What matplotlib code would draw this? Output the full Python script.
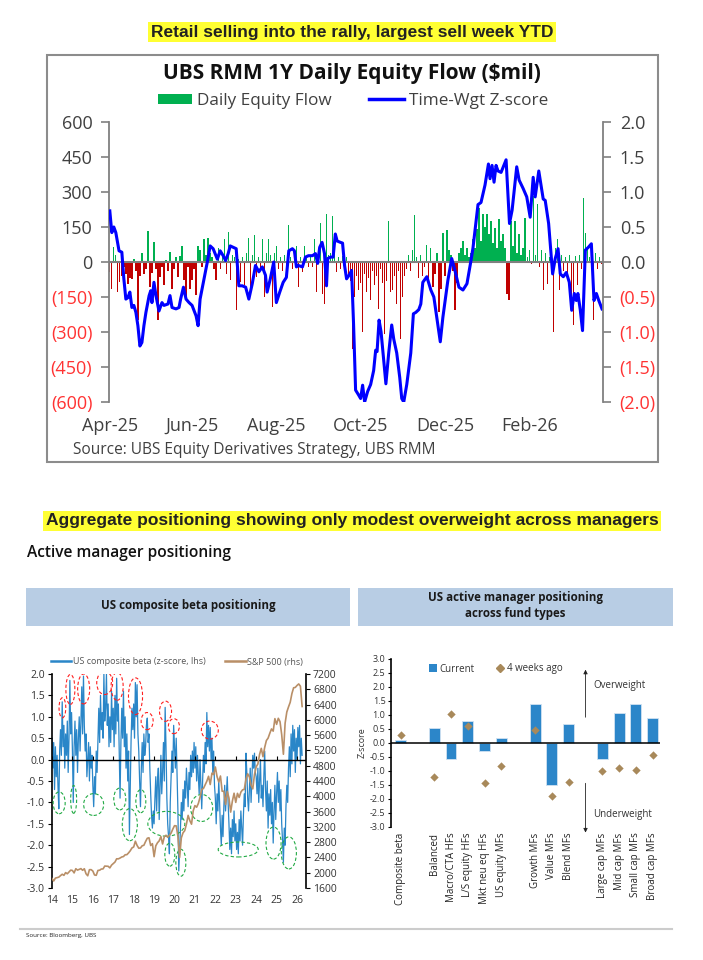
import matplotlib
matplotlib.use("Agg")
import matplotlib.pyplot as plt
from matplotlib.patches import Rectangle, Ellipse, Patch
from matplotlib.lines import Line2D

plt.rcParams["font.family"] = ["Open Sans", "DejaVu Sans"]

# ---------------- top chart: UBS RMM daily equity flow ----------------
month_tick_days = [0, 41, 83, 125, 167, 209]
month_tick_labels = ["Apr-25", "Jun-25", "Aug-25", "Oct-25", "Dec-25", "Feb-26"]

daily_flow = [
    -43, -114, 64, 29, -129, -86, -60, -20, -50, -93,
    -70, -71, 15, -40, -250, -60, 39, -50, -30, 131,
    -107, -45, 86, -30, -250, -64, -20, -100, 10, -40,
    43, -114, -30, 20, -64, 25, 70, -79, -157, -20,
    -114, -79, -30, -143, 70, 50, -20, 100, 30, 104,
    40, 20, -30, -79, 61, -29, 20, 97, -50, 127,
    -79, 30, 20, -207, 15, -86, 20, -100, 40, 104,
    -107, 30, 114, -64, 20, -40, 100, -150, 40, 100,
    30, -193, 39, 70, -29, 20, -40, 30, -43, 160,
    20, -30, 40, 67, -107, 20, -43, 67, 25, -20,
    30, -20, 100, -129, 40, 167, -136, -179, 207, 30,
    40, 197, 64, -43, 20, -30, 25, -40, 20, -60,
    -80, -371, -150, -60, -120, -90, -300, -50, -130, -70,
    -164, -40, -100, -60, -200, -30, -90, -307, -80, 176,
    -130, -120, -60, -179, -40, -329, -150, -60, -30, 30,
    -40, 50, 201, 20, -70, 30, -60, -20, 73, -100,
    60, -107, -50, 40, -214, -115, 123, -60, 137, 50,
    30, -40, -207, -90, 40, 60, 90, 30, 60, 20,
    40, 100, 60, 140, 233, 90, 204, 150, 207, 120,
    176, 80, 147, 60, 183, 90, 119, 60, -136, -164,
    176, 70, 176, 40, 119, 30, 60, 190, 20, 50,
    -10, 283, 30, 250, -20, 50, -121, 40, -93, 20,
    30, -300, 60, 97, -121, 30, -40, 20, -60, 30,
    -157, -271, 25, -100, 30, -30, 273, 126, 60, 20,
    30, -250, 40, -30, 20, -10,
]

zscore_day = [
    0, 1, 2, 3, 4.6, 6, 7, 8, 9, 10, 11, 12, 13, 14, 15, 16, 17, 18, 19.6, 20.4,
    21, 22, 23, 24.5, 26, 27, 29, 30, 31, 33, 34.5, 35.3, 36.7, 38, 39.5, 41, 43, 44, 45, 47,
    48.6, 50, 51.5, 53.6, 55, 56.5, 57.7, 59, 60, 61.5, 63, 64.3, 66, 67.7, 69.3, 71, 72.6, 74.3, 76, 77.6,
    78.4, 80, 81.7, 83, 84.7, 86.4, 88, 89.2, 91, 92, 93, 94, 96, 97.5, 99, 101, 102.5, 103.6, 104.6, 105.8,
    107, 108, 108.6, 110, 111.3, 112.4, 113.3, 115, 116, 117, 118, 119.5, 120.5, 121.5, 122.5, 124, 125, 126, 127, 128.5,
    130, 131.5, 132.5, 133.2, 134.2, 135.2, 136.5, 137.6, 139, 140.5, 141.5, 143, 144.5, 145.5, 146.5, 148, 150, 151.3, 152.5, 154,
    155, 156, 157, 158, 160, 161.5, 163, 164.7, 166, 168.5, 170.4, 172, 174, 176, 178, 180, 181, 182.6, 183.5, 185,
    187, 188.7, 189.5, 190.5, 191.5, 192.5, 193.5, 195, 197.5, 199.2, 200.5, 202.8, 204, 206, 207.8, 209.5, 211, 212, 213.8, 216,
    217, 218.7, 220.7, 222, 223.4, 224.5, 226, 227.5, 229, 230.2, 231.5, 232.5, 233.3, 234.5, 235.6, 237, 238.5, 240, 241.3, 242.5,
    243.7, 245.3,
]
zscore_val = [
    0.73, 0.42, 0.50, 0.42, 0.16, 0.14, -0.24, -0.53, -0.51, -0.43, -0.65, -0.62, -0.72, -0.91, -1.20, -1.15, -0.91, -0.72, -0.48, -0.41,
    -0.58, -0.29, -0.48, -0.70, -0.58, -0.62, -0.60, -0.48, -0.65, -0.67, -0.65, -0.53, -0.36, -0.53, -0.58, -0.62, -0.77, -0.91, -0.53, -0.24,
    0.0, 0.23, 0.19, 0.04, 0.16, 0.09, 0.02, 0.12, 0.23, 0.21, 0.19, -0.34, -0.34, -0.36, -0.53, -0.31, -0.05, -0.14, -0.07, -0.19,
    -0.43, -0.24, 0.0, -0.58, -0.43, -0.29, -0.22, 0.16, 0.19, 0.16, -0.07, -0.05, -0.07, 0.07, 0.09, 0.09, 0.12, -0.02, 0.21, 0.28,
    0.12, -0.34, 0.05, 0.07, 0.07, 0.40, 0.30, 0.28, 0.27, -0.05, -0.24, -0.18, -0.12, -0.90, -1.83, -1.90, -1.95, -1.76, -2.0, -1.85,
    -1.75, -1.55, -1.26, -1.28, -0.83, -1.0, -1.40, -1.74, -1.30, -0.90, -1.10, -1.30, -1.65, -1.95, -2.0, -1.75, -1.30, -0.74, -0.72, -0.68,
    -0.60, -0.29, -0.25, -0.21, -0.40, -0.50, -0.80, -1.14, -0.79, -0.26, 0.05, -0.12, -0.36, -0.40, -0.31, 0.02, 0.20, 0.59, 0.82, 0.85,
    1.10, 1.40, 1.19, 1.38, 1.14, 1.38, 1.30, 1.28, 1.46, 0.55, 0.74, 1.36, 1.17, 1.05, 0.93, 0.64, 1.21, 0.93, 1.30, 0.90,
    0.88, 0.55, -0.17, 0.05, 0.19, -0.17, -0.21, -0.15, -0.29, -0.69, -0.45, -0.55, -0.45, -0.69, -0.98, 0.17, 0.21, 0.26, -0.55, -0.45,
    -0.55, -0.67,
]

# ---------------- bottom left: US composite beta vs S&P 500 ----------------
beta_2014 = [0.5, -0.2, 0.4, -0.7, 0.3, -0.4, 0.1, -0.6, -1.15, 0.2, 0.7, 0.1, 1.35, 0.3, 0.8, -0.2, 0.6, 0.1, 0.9, -0.3, 0.5, 1.85, 0.6, 1.1]
beta_2015 = [0.2, -1.0, 0.3, 0.9, 0.1, 0.7, -0.3, 0.5, 1.0, 0.2, 0.9, 1.7, 0.6, 1.95, 0.8, 0.2, 0.6, -0.4, 0.0, 0.4, -0.5, 0.3, -0.2, 0.1]
beta_2016 = [-0.6, -1.1, -0.4, -0.8, 0.2, -0.3, 0.5, 1.2, 0.4, 1.5, 0.7, 1.1, 0.5, 2.0, 0.9, 1.2, 2.0, 0.8, 1.3, 0.3, 1.0, 0.4, 1.6, 0.7]
beta_2017 = [1.2, 0.3, 1.5, 0.6, 1.9, 0.9, 1.3, 0.2, -0.9, 0.4, 1.2, 0.5, 1.6, 0.3, 1.0, -0.2, 0.6, -0.5, 0.2, -1.75, -0.6, 0.5, 1.2, 0.7]
beta_2018 = [1.3, 0.5, 1.8, 1.0, 1.75, 0.6, 0.2, -0.5, -1.1, -0.2, 0.4, -0.3, 0.6, 0.1, 0.3, 0.8, 0.97, 0.4, 0.6, -0.2, -0.8, -1.3, -1.6, -1.2]
beta_2019 = [-1.5, -0.9, -0.4, -1.2, -0.5, -0.2, -1.4, -0.6, 0.1, -0.8, -0.3, 0.4, -0.5, 1.22, 0.3, -0.9, -1.5, -1.8, -2.2, -1.0, -0.4, 0.2, -0.3, 0.8]
beta_2020 = [0.3, -0.2, 0.5, -0.4, -1.2, -2.6, -2.1, -1.6, -1.0, -1.4, -0.7, -1.2, -0.5, -0.9, -0.2, -0.6, -1.1, -0.3, -0.7, 0.1, -0.4, 0.2, -0.3, 0.4]
beta_2021 = [-0.2, 0.3, -0.5, 0.1, -0.4, -0.8, 0.0, -0.6, -1.15, -0.5, 0.1, -0.3, 0.4, -0.1, 1.1, 0.3, 0.8, 0.2, 0.75, 0.0, 0.5, -0.3, 0.2, -0.6]
beta_2022 = [-0.9, -1.5, -0.8, -1.2, -0.5, -1.0, -1.6, -2.0, -1.3, -1.8, -1.1, -0.6, -1.2, -0.8, -0.4, -1.0, -1.5, -2.1, -1.6, -2.2, -1.4, -1.8, -1.2, -1.9]
beta_2023 = [-1.5, -2.1, -1.7, -2.2, -1.4, -1.9, -1.2, -1.6, -2.0, -1.3, -0.8, -1.1, 0.15, -0.3, -0.9, -1.2, -0.7, -0.2, -1.0, -0.4, 0.1, -0.2, 0.15, -0.3]
beta_2024 = [-0.4, -0.8, -0.2, -1.0, -0.5, 0.0, -0.9, -0.6, -1.1, -0.4, 0.2, -0.7, -1.2, -0.5, -1.6, -0.8, -1.3, -0.7, -1.5, -1.0, -1.95, -1.2, -0.6, -1.4]
beta_2025 = [-0.8, -0.3, -1.0, -0.5, -1.2, -0.7, -1.5, -1.9, -2.4, -1.6, -2.0, -1.1, -0.6, -1.0, -0.2, 0.3, -0.4, 0.6, -0.1, 0.8, 0.2, 0.7, -0.3, 0.5]
beta_2026 = [0.0, 0.75, 0.3, 0.8, -0.1, 0.5, 0.1]

# monthly S&P 500 level, Dec-2013 .. Mar-2026
sp_2014 = [1848, 1783, 1859, 1872, 1884, 1924, 1960, 1931, 2003, 1972, 2018, 2068, 2059]
sp_2015 = [1995, 2105, 2068, 2086, 2107, 2063, 2104, 1972, 1920, 2079, 2080, 2044]
sp_2016 = [1940, 1932, 2060, 2065, 2097, 2099, 2174, 2171, 2168, 2126, 2199, 2239]
sp_2017 = [2279, 2364, 2363, 2384, 2412, 2423, 2470, 2472, 2519, 2575, 2648, 2674]
sp_2018 = [2824, 2714, 2641, 2648, 2705, 2718, 2816, 2902, 2914, 2712, 2760, 2420]
sp_2019 = [2704, 2784, 2834, 2946, 2752, 2942, 2980, 2926, 2977, 3038, 3141, 3231]
sp_2020 = [3226, 2954, 2400, 2912, 3044, 3100, 3271, 3500, 3363, 3270, 3622, 3756]
sp_2021 = [3714, 3811, 3973, 4181, 4204, 4298, 4395, 4523, 4308, 4605, 4567, 4766]
sp_2022 = [4516, 4374, 4530, 4132, 4132, 3785, 4130, 3955, 3586, 3872, 4080, 3840]
sp_2023 = [4077, 3970, 4109, 4169, 4180, 4450, 4589, 4508, 4288, 4194, 4568, 4770]
sp_2024 = [4846, 5096, 5254, 5036, 5278, 5460, 5522, 5648, 5762, 5705, 6032, 5882]
sp_2025 = [6041, 5955, 5612, 5100, 5912, 6205, 6339, 6460, 6688, 6840, 6849, 6900]
sp_2026 = [6940, 6880, 6350]

beta_years = list(range(2014, 2027))
beta_year_labels = [str(y)[2:] for y in beta_years]

# dashed circles drawn on the beta chart: (year, z, width in years, height in z)
peak_circles = [
    (2014.51, 1.21, 0.33, 0.47), (2014.90, 1.64, 0.44, 0.70), (2015.55, 1.65, 0.59, 0.70),
    (2016.58, 1.79, 0.78, 0.54), (2017.19, 1.71, 0.59, 0.65), (2018.09, 1.48, 0.69, 0.86),
    (2018.66, 0.90, 0.59, 0.40), (2019.56, 1.13, 0.59, 0.47), (2019.97, 0.78, 0.54, 0.35),
    (2021.73, 0.69, 0.83, 0.42),
]
trough_circles = [
    (2014.35, -1.01, 0.59, 0.51), (2015.06, -0.93, 0.29, 0.65), (2016.04, -1.05, 0.98, 0.51),
    (2017.32, -0.92, 0.59, 0.51), (2017.81, -1.52, 0.74, 0.75), (2018.35, -0.97, 0.49, 0.54),
    (2019.60, -1.50, 1.81, 0.58), (2019.77, -2.22, 0.49, 0.54), (2020.31, -2.41, 0.49, 0.63),
    (2021.33, -1.13, 1.08, 0.63), (2023.12, -2.10, 1.96, 0.35), (2024.85, -1.95, 0.74, 0.75),
    (2025.60, -2.18, 0.74, 0.75),
]

# ---------------- bottom right: fund type positioning ----------------
fund_types = ["Composite beta", "", "Balanced", "Macro/CTA HFs", "L/S equity HFs", "Mkt neu eq HFs",
              "US equity MFs", "", "Growth MFs", "Value MFs", "Blend MFs", "",
              "Large cap MFs", "Mid cap MFs", "Small cap MFs", "Broad cap MFs"]
current_z = [0.12, None, 0.53, -0.56, 0.77, -0.29, 0.17, None, 1.41, -1.49, 0.68, None, -0.58, 1.07, 1.38, 0.88]
weeks_ago_z = [0.29, None, -1.20, 1.04, 0.60, -1.44, -0.82, None, 0.46, -1.88, -1.40, None, -1.01, -0.89, -0.97, -0.43]

W, H = 703, 960


def fx(x):
    return x / W


def fy(y):
    return 1 - y / H


def rect(x0, y0, x1, y1):
    return [x0 / W, 1 - y1 / H, (x1 - x0) / W, (y1 - y0) / H]


def fig_box(fig, x0, y0, x1, y1, **kw):
    fig.add_artist(Rectangle((fx(x0), fy(y1)), (x1 - x0) / W, (y1 - y0) / H,
                             transform=fig.transFigure, **kw))


def draw_flow_chart(fig):
    fig_box(fig, 47, 55, 658, 462, fill=False, edgecolor="#8c8c8c", linewidth=1.5)
    fig.text(fx(352), fy(32), "Retail selling into the rally, largest sell week YTD",
             family="Liberation Sans", weight="bold", fontsize=12.5, ha="center", va="center",
             color="#222222", bbox=dict(facecolor="#FFFF33", edgecolor="none", pad=2.0))
    fig.text(fx(352), fy(73), "UBS RMM 1Y Daily Equity Flow ($mil)", weight="bold",
             fontsize=15, ha="center", va="center", color="#111111")

    ax = fig.add_axes(rect(109, 122, 603, 402))
    days = list(range(len(daily_flow)))
    colors = ["#00B050" if v >= 0 else "#C00000" for v in daily_flow]
    ax.bar(days, daily_flow, width=0.65, color=colors, linewidth=0)
    ax.axhline(0, color="#808080", linewidth=1.5, zorder=3)
    ax.set_xlim(-0.4, len(daily_flow) - 0.2)
    ax.set_ylim(-600, 600)
    yt = list(range(-600, 601, 150))
    ax.set_yticks(yt)
    ax.set_yticklabels([f"{v}" if v >= 0 else f"({-v})" for v in yt])
    for lab, v in zip(ax.get_yticklabels(), yt):
        lab.set_color("#404040" if v >= 0 else "#FF3333")
    ax.set_xticks(month_tick_days)
    ax.set_xticklabels(month_tick_labels)
    ax.tick_params(axis="x", length=0, pad=11, labelsize=13, labelcolor="#404040")
    ax.tick_params(axis="y", direction="out", length=6, width=1.2, color="#808080",
                   labelsize=13, pad=6)
    for s in ["top", "bottom", "right"]:
        ax.spines[s].set_visible(False)
    ax.spines["left"].set_color("#808080")
    ax.spines["left"].set_linewidth(1.3)

    ax2 = ax.twinx()
    ax2.plot(zscore_day, zscore_val, color="#0000FF", linewidth=2.2)
    ax2.set_ylim(-2, 2)
    zt = [-2.0, -1.5, -1.0, -0.5, 0.0, 0.5, 1.0, 1.5, 2.0]
    ax2.set_yticks(zt)
    ax2.set_yticklabels([f"{v:.1f}" if v >= 0 else f"({-v:.1f})" for v in zt])
    for lab, v in zip(ax2.get_yticklabels(), zt):
        lab.set_color("#404040" if v >= 0 else "#FF3333")
    ax2.tick_params(axis="y", direction="out", length=6, width=1.2, color="#808080",
                    labelsize=13, pad=6)
    for s in ["top", "bottom", "left"]:
        ax2.spines[s].set_visible(False)
    ax2.spines["right"].set_color("#808080")
    ax2.spines["right"].set_linewidth(1.3)

    handles = [Patch(facecolor="#00B050", edgecolor="none"),
               Line2D([], [], color="#0000FF", linewidth=2.5)]
    fig.legend(handles, ["Daily Equity Flow", "Time-Wgt Z-score"], loc="center",
               bbox_to_anchor=(fx(353), fy(101)), ncol=2, frameon=False, fontsize=12.3,
               handlelength=2.0, handleheight=0.55, columnspacing=2.2, handletextpad=0.3,
               labelcolor="#404040")
    fig.text(fx(73), fy(450), "Source: UBS Equity Derivatives Strategy, UBS RMM",
             fontsize=11.2, color="#404040", va="center")


def draw_headers(fig):
    fig.text(fx(352), fy(521), "Aggregate positioning showing only modest overweight across managers",
             family="Liberation Sans", weight="bold", fontsize=12.5, ha="center", va="center",
             color="#222222", bbox=dict(facecolor="#FFFF33", edgecolor="none", pad=2.0))
    fig.text(fx(27), fy(553), "Active manager positioning", fontsize=11.2, weight="semibold",
             va="center", color="#111111")
    fig_box(fig, 26, 588, 350, 626, facecolor="#B8CDE4", edgecolor="none")
    fig_box(fig, 358, 588, 673, 626, facecolor="#B8CDE4", edgecolor="none")
    fig.text(fx(188), fy(606), "US composite beta positioning", fontsize=8.3, weight="bold",
             ha="center", va="center", color="#1a1a1a")
    fig.text(fx(515), fy(606), "US active manager positioning\nacross fund types", fontsize=8.3,
             weight="bold", ha="center", va="center", color="#1a1a1a", linespacing=1.3)
    fig.add_artist(Line2D([fx(20), fx(672)], [fy(929), fy(929)], transform=fig.transFigure,
                          color="#cccccc", linewidth=1.5))
    fig.text(fx(26), fy(936), "Source: Bloomberg, UBS", fontsize=4.5, va="center", color="#222222")


def draw_beta_chart(fig):
    beta = (beta_2014 + beta_2015 + beta_2016 + beta_2017 + beta_2018 + beta_2019 + beta_2020
            + beta_2021 + beta_2022 + beta_2023 + beta_2024 + beta_2025 + beta_2026)
    beta_x = [2014 + i / 24 for i in range(len(beta))]
    sp = (sp_2014 + sp_2015 + sp_2016 + sp_2017 + sp_2018 + sp_2019 + sp_2020 + sp_2021
          + sp_2022 + sp_2023 + sp_2024 + sp_2025 + sp_2026)
    sp_x = [2014 + i / 12 for i in range(len(sp))]

    ax = fig.add_axes(rect(52, 674, 306, 888))
    ax.plot(beta_x, beta, color="#2A86C8", linewidth=0.9)
    ax.axhline(0, color="black", linewidth=1.0, zorder=4)
    ax.vlines(beta_years, 0, 0.09, color="black", linewidth=0.8, zorder=4)
    ax.set_xlim(2014, 2026.44)
    ax.set_ylim(-3, 2)
    yt = [-3 + 0.5 * i for i in range(11)]
    ax.set_yticks(yt)
    ax.set_yticklabels([f"{v:.1f}" for v in yt])
    ax.set_xticks(beta_years)
    ax.set_xticklabels(beta_year_labels)
    ax.tick_params(axis="x", length=0, pad=5, labelsize=7.5, labelcolor="#333333")
    ax.tick_params(axis="y", direction="out", length=3, width=0.8, labelsize=7.5,
                   labelcolor="#333333", pad=2)
    for s in ["top", "bottom", "right"]:
        ax.spines[s].set_visible(False)
    ax.spines["left"].set_linewidth(1.2)

    ax2 = ax.twinx()
    ax2.plot(sp_x, sp, color="#B98F67", linewidth=1.2)
    for (cx, cy, w, h) in peak_circles:
        ax2.add_patch(Ellipse((cx, cy), w, h, transform=ax.transData, fill=False,
                              edgecolor="#FF2020", linestyle=(0, (3, 2)), linewidth=0.8))
    for (cx, cy, w, h) in trough_circles:
        ax2.add_patch(Ellipse((cx, cy), w, h, transform=ax.transData, fill=False,
                              edgecolor="#22AA44", linestyle=(0, (3, 2)), linewidth=0.8))
    ax2.set_xlim(2014, 2026.44)
    ax2.set_ylim(1600, 7200)
    ax2.set_yticks(list(range(1600, 7201, 400)))
    ax2.tick_params(axis="y", direction="out", length=3, width=0.8, labelsize=7.5,
                    labelcolor="#333333", pad=2)
    for s in ["top", "bottom", "left"]:
        ax2.spines[s].set_visible(False)
    ax2.spines["right"].set_linewidth(1.2)

    handles = [Line2D([], [], color="#2A86C8", linewidth=1.8),
               Line2D([], [], color="#B98F67", linewidth=1.8)]
    fig.legend(handles, ["US composite beta (z-score, lhs)", "S&P 500 (rhs)"], loc="center",
               bbox_to_anchor=(fx(177), fy(662)), ncol=2, frameon=False, fontsize=6.5,
               handlelength=2.3, handletextpad=0.15, columnspacing=2.2, labelcolor="#555555")


def draw_fund_chart(fig):
    ax = fig.add_axes(rect(391, 659, 660, 827))
    slots = list(range(len(fund_types)))
    cur_x = [i for i, v in zip(slots, current_z) if v is not None]
    cur_v = [v for v in current_z if v is not None]
    ago_x = [i for i, v in zip(slots, weeks_ago_z) if v is not None]
    ago_v = [v for v in weeks_ago_z if v is not None]
    ax.bar(cur_x, cur_v, width=0.65, color="#2C86C9", edgecolor="#d0e2f2", linewidth=0.6, zorder=2)
    ax.scatter(ago_x, ago_v, marker="D", s=18, color="#A8895A", zorder=3, linewidths=0)
    ax.axhline(0, color="black", linewidth=1.1, zorder=4)
    ax.set_xlim(-0.57, 15.43)
    ax.set_ylim(-3, 3)
    yt = [-3 + 0.5 * i for i in range(13)]
    ax.set_yticks(yt)
    ax.set_yticklabels([f"{v:.1f}" for v in yt])
    ax.set_xticks(slots)
    ax.set_xticklabels(fund_types, rotation=90, va="top", ha="center")
    ax.tick_params(axis="x", length=0, pad=4, labelsize=7, labelcolor="#222222")
    ax.tick_params(axis="y", direction="out", length=2, width=0.8, labelsize=6.5,
                   labelcolor="#333333", pad=2)
    for s in ["top", "bottom", "right"]:
        ax.spines[s].set_visible(False)
    ax.spines["left"].set_linewidth(1.2)
    ax.set_ylabel("Z-score", fontsize=6.5, color="#333333", labelpad=2)

    ax.annotate("", xy=(11, 2.62), xytext=(11, 0.92),
                arrowprops=dict(arrowstyle="-|>", color="#222222", linewidth=0.6,
                                mutation_scale=6, shrinkA=0, shrinkB=0))
    ax.annotate("", xy=(11, -3.2), xytext=(11, -1.44), annotation_clip=False,
                arrowprops=dict(arrowstyle="-|>", color="#222222", linewidth=0.6,
                                mutation_scale=6, shrinkA=0, shrinkB=0))
    ax.text(11.45, 2.06, "Overweight", fontsize=7, color="#333333", va="center")
    ax.text(11.45, -2.55, "Underweight", fontsize=7, color="#333333", va="center")

    handles = [Patch(facecolor="#2C86C9", edgecolor="none"),
               Line2D([], [], marker="D", linestyle="none", color="#A8895A", markersize=3.8)]
    fig.legend(handles, ["Current", "4 weeks ago"], loc="center",
               bbox_to_anchor=(fx(496), fy(669)), ncol=2, frameon=False, fontsize=7,
               handlelength=0.8, handleheight=0.8, handletextpad=0.3, columnspacing=2.2,
               labelcolor="#333333")


def main():
    fig = plt.figure(figsize=(7.03, 9.6), dpi=100)
    fig.patch.set_facecolor("white")
    draw_flow_chart(fig)
    draw_headers(fig)
    draw_beta_chart(fig)
    draw_fund_chart(fig)
    fig.savefig("out.png", dpi=100)


if __name__ == "__main__":
    main()
